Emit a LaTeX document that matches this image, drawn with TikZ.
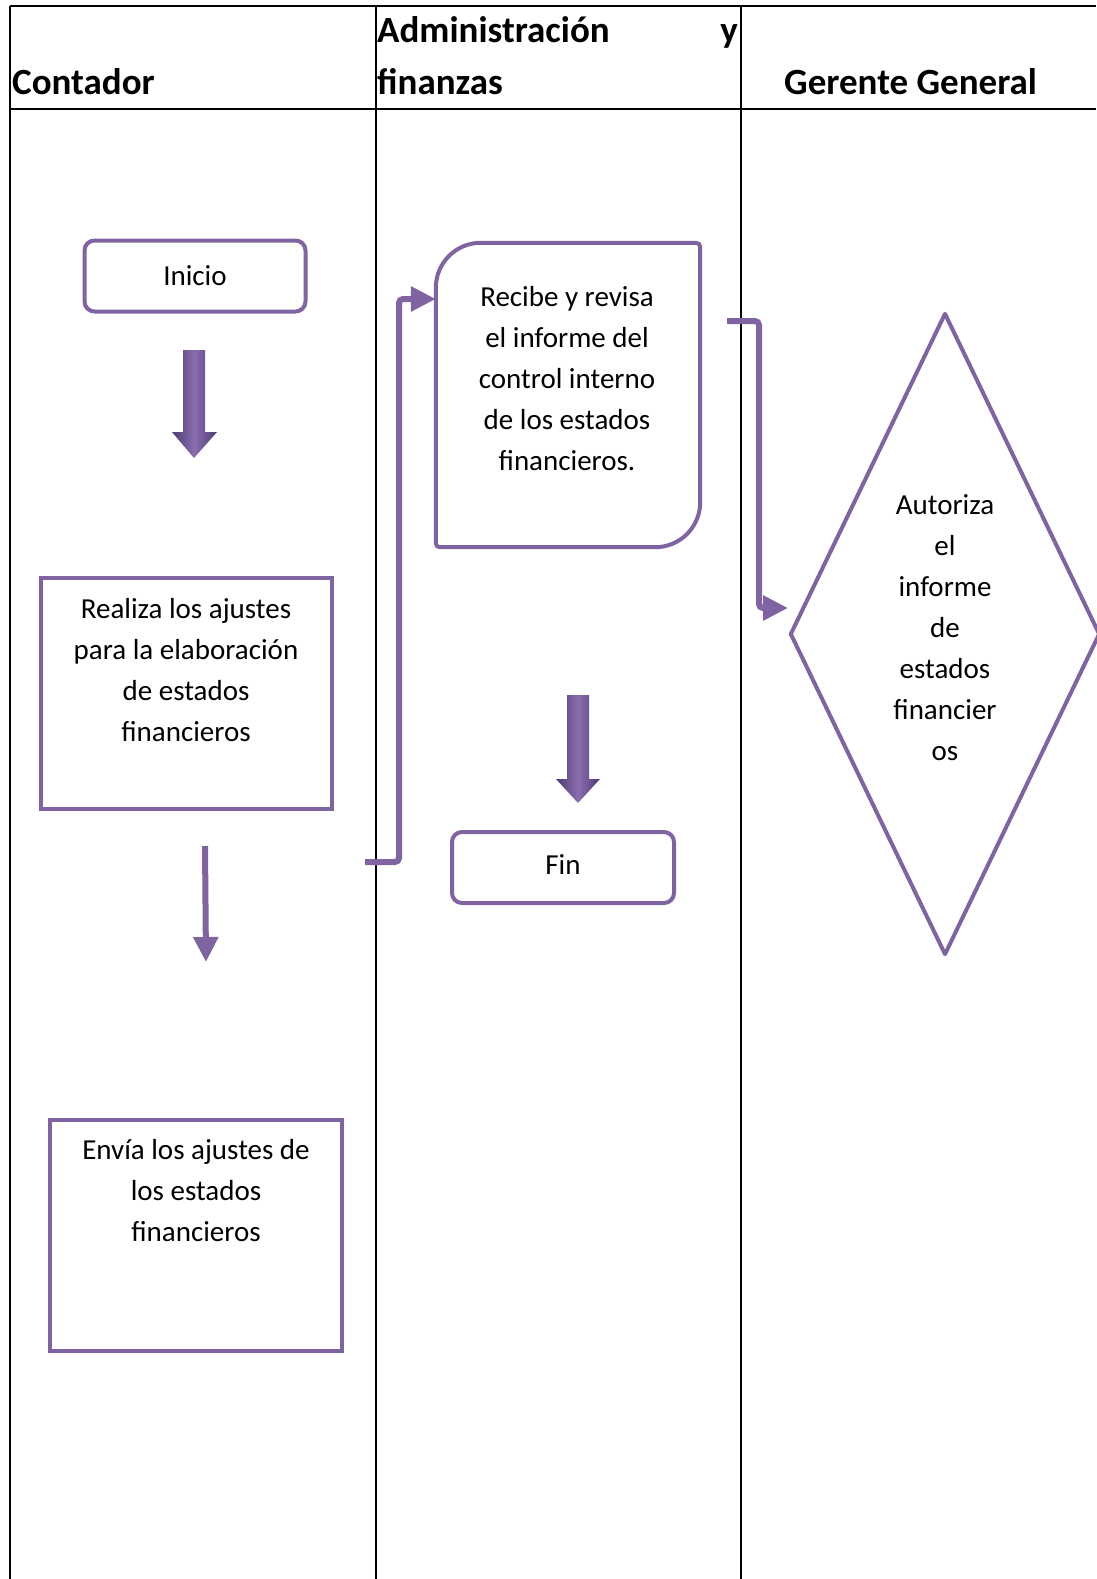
\documentclass[tikz,border=0pt]{standalone}
\usepackage{fontspec}
\setmainfont{Carlito}
\usetikzlibrary{arrows.meta, shapes.geometric}
\definecolor{lila}{HTML}{8064A2}
\definecolor{lilaD}{HTML}{4F3A70}
\definecolor{lilaL}{HTML}{8A6EB0}

\begin{document}
\begin{tikzpicture}[x=1pt, y=-1pt, >={Triangle[width=24pt,length=25pt]},
  font=\fontsize{29}{41}\selectfont,
  grid/.style={line width=2pt, black},
  head/.style={font=\fontsize{37}{44}\selectfont\bfseries, anchor=base west, inner sep=0},
  caja/.style={draw=lila, line width=4pt, inner sep=0},
  txt/.style={align=center, inner sep=0},
  conn/.style={draw=lila, line width=6pt, ->, rounded corners=4pt},
  flecha/.style={left color=lilaD, right color=lilaD, middle color=lilaL}]
\useasboundingbox (0,0) rectangle (1096,1579);

% tabla
\draw[grid] (10,6) -- (1096,6);
\draw[grid] (10,109) -- (1096,109);
\foreach \x in {10,376,741} \draw[grid] (\x,6) -- (\x,1579);

\node[head] (hCont) at (12,95) {Contador};
\node[head] (hAdm) at (377,43) {Administración};
\node[head, anchor=base east] (hY) at (738,43) {y};
\node[head] (hFin) at (377,94) {finanzas};
\node[head] (hGer) at (784,95) {Gerente General};

% Contador
\node[caja, rounded corners=10pt, minimum width=221pt, minimum height=71pt] (inicio) at (195,276) {Inicio};
\shade[flecha] (183,350) -- (205,350) -- (205,432) -- (217,432) -- (194,458) -- (172,432) -- (183,432) -- cycle;
\node[caja, minimum width=291pt, minimum height=231pt] (realiza) at (186.5,693.5) {};
\node[txt] (tRealiza) at (186,670) {Realiza los ajustes\\para la elaboración\\de estados\\financieros};
\node[caja, minimum width=292pt, minimum height=231pt] (envia) at (196,1235.5) {};
\node[txt] (tEnvia) at (196,1191) {Envía los ajustes de\\los estados\\financieros};

% Administracion y finanzas
\node[inner sep=0, minimum width=264pt, minimum height=304pt] (recibe) at (568,395) {};
\draw[lila, line width=4pt, rounded corners=4pt] (recibe.north) -- (recibe.north east) -- (recibe.east)
  [rounded corners=45pt] -- (recibe.south east) -- (recibe.south)
  [rounded corners=4pt] -- (recibe.south west) -- (recibe.west)
  [rounded corners=45pt] -- (recibe.north west) -- cycle;
\node[txt] (tRecibe) at (567,379) {Recibe y revisa\\el informe del\\control interno\\de los estados\\financieros.};
\shade[flecha] (567,695) -- (589,695) -- (589,779) -- (600,779) -- (578,803) -- (556,779) -- (567,779) -- cycle;
\node[caja, rounded corners=10pt, minimum width=222pt, minimum height=71pt] (fin) at (563,867.5) {};
\node[txt] (tFin) at (563,865) {Fin};

% Gerente General
\node[diamond, draw=lila, line width=4pt, line join=round, inner sep=0, minimum width=310pt, minimum height=642pt] (autoriza) at (945,634) {};
\node[txt] (tAutoriza) at (945,628) {Autoriza\\el\\informe\\de\\estados\\financier\\os};

% conectores
\coordinate (a1) at (205,846);
\coordinate (a2) at (206,962);
\draw[conn] (a1) -- (a2);
\coordinate (e1) at (365,862);
\coordinate (r1) at (399,299);
\draw[conn] (e1) -| (r1) -- (r1 -| recibe.west);
\coordinate (e2) at (727,321);
\coordinate (r2) at (759,608);
\draw[conn] (e2) -| (r2) -- (r2 -| autoriza.west);

\end{tikzpicture}
\end{document}
